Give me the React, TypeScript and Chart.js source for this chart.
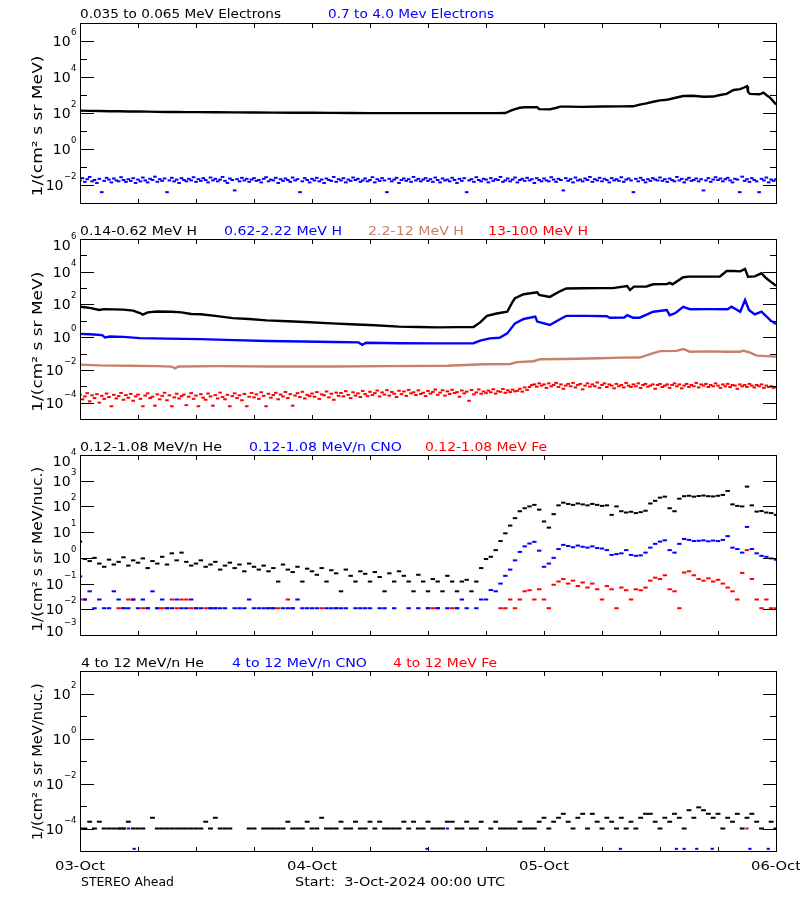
import React, { useEffect, useRef } from 'react';
import { Chart, registerables } from 'chart.js';

Chart.register(...registerables);

// ---------------- DATA ----------------
const CADENCE_30 = 0.5;  // hours between samples (30-min series)
const CADENCE_15 = 0.25; // hours between samples (15-min series)

const X_DAY_HOURS = [0, 24, 48, 72];
const X_DAY_LABELS = ['03-Oct', '04-Oct', '05-Oct', '06-Oct'];
const X_MINOR_HOURS = [6, 12, 18, 24, 30, 36, 42, 48, 54, 60, 66];
const FOOTER_LEFT = 'STEREO Ahead';
const FOOTER_RIGHT = 'Start:  3-Oct-2024 00:00 UTC';

// Panel 1: electrons
const P1_NAMES = ['0.035 to 0.065 MeV Electrons', '0.7 to 4.0 Mev Electrons'];
const P1_Y_TITLE = '1/(cm\u00B2 s sr MeV)';
const E_LOW: [number, number][] = [
  [0, 135], [1, 132], [2, 128], [3, 126], [4, 124], [5, 122], [6, 120], [7, 119], [8, 116], [9, 114],
  [10, 113], [11, 112], [12, 112], [14, 110], [16, 108], [18, 106], [20, 105], [22, 104], [24, 103],
  [26, 101], [28, 100], [30, 99], [32, 98], [34, 98], [36, 99], [38, 98], [40, 99], [42, 98], [43, 99],
  [44, 100], [44.5, 130], [45, 165], [45.5, 195], [46, 210], [47.3, 210], [47.5, 165], [48.6, 160],
  [49.2, 190], [49.7, 225], [50.3, 225], [52, 220], [54, 230], [56, 232], [57.2, 235], [57.9, 290],
  [58.6, 340], [59.3, 420], [60, 500], [60.7, 540], [61.5, 680], [62.4, 880], [63.4, 900], [64.5, 800],
  [65.5, 820], [66.2, 1000], [66.9, 1150], [67.6, 1900], [68.3, 2100], [68.7, 2600], [69, 3100],
  [69.1, 1500], [69.3, 1150], [70.3, 1100], [70.7, 1350], [71, 1000], [71.4, 700], [72, 300],
];
const E_HIGH: (number | null)[] = [
  .018, .024, .015, .021, .028, .016, .019, .013, .022, .004, .017, .025, .02, .014, .023, .018, .016, .027, .019, .015, .021, .017, .024, .013,
  .02, .016, .026, .018, .014, .022, .019, .029, .015, .021, .017, .023, .004, .018, .025, .016, .02, .013, .024, .019, .016, .022, .018, .027,
  .015, .021, .017, .024, .019, .014, .026, .018, .022, .016, .02, .028, .017, .013, .023, .019, .005, .021, .016, .025, .018, .022, .015, .02,
  .024, .017, .019, .014, .022, .027, .016, .02, .018, .025, .013, .021, .017, .023, .019, .015, .026, .018, .021, .004, .016, .024, .019, .014,
  .022, .018, .025, .016, .02, .013, .023, .019, .017, .028, .015, .021, .018, .024, .014, .02, .017, .026, .019, .022, .015, .018, .023, .016,
  .019, .027, .014, .021, .017, .024, .018, .004, .022, .016, .02, .025, .013, .019, .023, .017, .021, .015, .028, .018, .022, .016, .02, .024,
  .017, .021, .015, .026, .019, .014, .023, .018, .02, .016, .025, .019, .013, .022, .017, .024, .004, .018, .021, .015, .027, .019, .016, .022,
  .02, .014, .024, .017, .021, .019, .028, .015, .018, .023, .016, .02, .026, .014, .019, .022, .017, .025, .018, .021, .013, .024, .019, .016,
  .023, .018, .016, .027, .02, .015, .022, .019, .005, .024, .017, .021, .014, .026, .018, .02, .016, .023, .019, .028, .015, .021, .018, .025,
  .016, .022, .019, .014, .024, .018, .021, .017, .027, .015, .02, .023, .018, .004, .022, .016, .025, .019, .014, .021, .017, .024, .02, .018,
  .026, .017, .021, .015, .023, .019, .016, .028, .018, .022, .014, .02, .025, .017, .019, .023, .016, .021, .005, .018, .024, .015, .02, .027,
  .019, .023, .016, .021, .025, .018, .014, .022, .02, .004, .029, .017, .021, .015, .024, .019, .016, .004, .022, .018, .026, .014, .02, .017,
  .021,
];

// Panel 2: protons
const P2_NAMES = ['0.14-0.62 MeV H', '0.62-2.22 MeV H', '2.2-12 MeV H', '13-100 MeV H'];
const P2_Y_TITLE = '1/(cm\u00B2 s sr MeV)';
const H_1: [number, number][] = [
  [0, 72], [0.5, 68], [1, 62], [2, 46], [2.5, 52], [3.5, 50], [4.5, 48], [5.5, 42], [6.2, 30], [6.5, 24],
  [7, 33], [8, 37], [9.5, 36], [10.5, 33], [11.5, 26], [12.5, 25], [14, 20], [15.8, 14.5], [17.5, 13],
  [19.3, 10.7], [21.5, 9.5], [23.8, 8.1], [26, 7], [28, 6.2], [30.5, 5.4], [33, 4.4], [35, 4.2], [37, 4.0],
  [39, 4.1], [40.7, 4.2], [41.4, 8], [42.1, 20], [43.1, 28], [44.2, 36], [44.7, 130], [45, 240], [45.9, 420],
  [47.3, 550], [47.5, 380], [48.6, 290], [49.7, 660], [50.3, 950], [52, 980], [54, 990], [55.1, 1000],
  [56.6, 1350], [56.9, 760], [57.3, 1230], [58.6, 1250], [59.3, 1700], [60.7, 1750], [61, 2100], [61.3, 1700],
  [62.4, 4600], [63, 5000], [66.2, 5100], [66.9, 11000], [67.6, 11000], [68.3, 10500], [68.8, 14800],
  [69.1, 5000], [69.8, 5200], [70.5, 8000], [71, 4000], [71.6, 2100], [72, 1400],
];
const H_2: [number, number][] = [
  [0, 1.6], [1, 1.5], [2.3, 1.35], [2.6, 0.95], [3.1, 1.1], [4.5, 1.05], [6.2, 0.87], [9, 0.82], [12.4, 0.76],
  [16, 0.66], [19.3, 0.59], [23, 0.55], [26.2, 0.51], [28.8, 0.48], [29.2, 0.34], [29.6, 0.46], [33.1, 0.43],
  [37, 0.42], [40.7, 0.43], [41.4, 0.62], [42.4, 0.85], [43.4, 0.93], [44.2, 1.7], [45, 7], [45.9, 13],
  [47.1, 18], [47.3, 9], [48.6, 5.6], [49.7, 13], [50.3, 20], [52.5, 20], [54.5, 19], [54.8, 15.5],
  [56.3, 16], [56.6, 22], [57.2, 15.5], [57.9, 15.5], [59.3, 36], [60.7, 46], [61, 22], [61.6, 30],
  [62.4, 71], [63.1, 51], [65, 52], [67, 51], [67.4, 74], [68.3, 36], [68.8, 186], [69.2, 46], [69.8, 24.5],
  [70.5, 36], [71.4, 11], [72, 6.3],
];
const H_3: [number, number][] = [
  [0, 0.021], [2, 0.019], [5, 0.018], [8, 0.017], [9.5, 0.016], [9.8, 0.0125], [10.2, 0.016], [14, 0.017],
  [20, 0.016], [26, 0.016], [32, 0.017], [38, 0.018], [41.7, 0.022], [44.5, 0.023], [45.2, 0.03],
  [46.9, 0.034], [47.6, 0.045], [50, 0.046], [53.8, 0.052], [56, 0.056], [57.9, 0.057], [59.3, 0.105],
  [60, 0.14], [61.7, 0.145], [62.4, 0.19], [63.1, 0.13], [65, 0.135], [67, 0.128], [68.3, 0.13],
  [68.6, 0.15], [69.2, 0.12], [70, 0.074], [71, 0.07], [72, 0.065],
];
const H_4: (number | null)[] = [
  3e-4, 1.6e-4, 2.4e-4, 3.8e-4, 1.2e-4, 2.8e-4, 1.9e-4, 3.3e-4, 1e-4, 2.6e-4, 1.7e-4, 3.6e-4, 2.2e-4, 6e-5, 3e-4, 1.8e-4, 2.5e-4, 3.9e-4, 1.5e-4, 2.9e-4, 2e-4, 3.4e-4, 1.3e-4, 2.4e-4,
  3.1e-4, 1.7e-4, 6e-5, 2.7e-4, 3.7e-4, 1.9e-4, 2.3e-4, 6.5e-5, 3.2e-4, 1.6e-4, 2.6e-4, 4e-4, 1.4e-4, 2.8e-4, 6e-5, 2.1e-4, 3.5e-4, 1.8e-4, 2.5e-4, 3.1e-4, 7e-5, 2.3e-4, 3.8e-4, 1.7e-4,
  2.7e-4, 6e-5, 3.3e-4, 2e-4, 1.5e-4, 3.6e-4, 2.4e-4, 6.5e-5, 2.9e-4, 1.8e-4, 4.1e-4, 2.2e-4, 1.6e-4, 3e-4, 6e-5, 2.5e-4, 3.7e-4, 1.9e-4, 2.8e-4, 1.4e-4, 3.4e-4, 6e-5, 2.3e-4, 3.9e-4,
  2.1e-4, 3.2e-4, 1.7e-4, 4.3e-4, 2.6e-4, 6e-5, 3.5e-4, 2e-4, 2.9e-4, 4e-4, 1.6e-4, 3.1e-4, 2.4e-4, 4.5e-4, 1.9e-4, 3.3e-4, 6.5e-5, 2.7e-4, 3.8e-4, 2.2e-4, 4.6e-4, 1.8e-4, 3e-4, 2.5e-4,
  3.6e-4, 2.3e-4, 4.4e-4, 1.7e-4, 3.2e-4, 2.8e-4, 4.8e-4, 2.1e-4, 3.5e-4, 1.5e-4, 4.1e-4, 2.6e-4, 3.9e-4, 2.4e-4, 5e-4, 3e-4, 1.9e-4, 4.3e-4, 2.7e-4, 3.7e-4, 2.2e-4, 5.2e-4, 3.3e-4, 2.5e-4,
  4.6e-4, 2.9e-4, 3.8e-4, 5.5e-4, 2.4e-4, 4.2e-4, 3.1e-4, 5.8e-4, 2.7e-4, 4.5e-4, 3.5e-4, 2.2e-4, 5.3e-4, 3.3e-4, 4.8e-4, 2.6e-4, 6e-4, 3.7e-4, 4.3e-4, 2.9e-4, 5.6e-4, 3.4e-4, 4e-4, 2.5e-4,
  5.2e-4, 3.6e-4, 4.5e-4, 6.3e-4, 3e-4, 4.1e-4, 5.7e-4, 2.7e-4, 4.9e-4, 3.4e-4, 6.1e-4, 3.9e-4, 4.4e-4, 2.3e-4, 5.5e-4, 3.7e-4, 4.7e-4, 1.3e-4, 5.9e-4, 3.2e-4, 4.2e-4, 6.4e-4, 3.5e-4, 4.8e-4,
  3.8e-4, 5.4e-4, 4.3e-4, 6.6e-4, 3.6e-4, 5e-4, 4.6e-4, 6.8e-4, 4e-4, 5.7e-4, 4.4e-4, 6.2e-4, 4.9e-4, 5.3e-4, 7e-4, 4.7e-4, 8.5e-4, 6e-4, 9e-4, 1.2e-3, 1.3e-3, 9.5e-4, 1.5e-3, 1.1e-3,
  1.3e-3, 8e-4, 1.5e-3, 1e-3, 1.2e-3, 1.6e-3, 9e-4, 1.3e-3, 7e-4, 1.1e-3, 1.4e-3, 1e-3, 1.6e-3, 8.5e-4, 1.2e-3, 1.4e-3, 6.5e-4, 1.1e-3, 1.5e-3, 9.5e-4, 1.3e-3, 1e-3, 1.7e-3, 8e-4,
  1.2e-3, 1.5e-3, 9e-4, 1.3e-3, 1.1e-3, 7.5e-4, 1.4e-3, 1e-3, 1.2e-3, 8.5e-4, 1.6e-3, 1.1e-3, 9e-4, 1.3e-3, 1e-3, 1.5e-3, 8e-4, 1.2e-3, 1.4e-3, 9.5e-4, 1.1e-3, 1.3e-3, 7e-4, 1.2e-3,
  1.4e-3, 9e-4, 1.1e-3, 1.3e-3, 8e-4, 1.2e-3, 1.5e-3, 1e-3, 1.3e-3, 7.5e-4, 1.1e-3, 1.4e-3, 9e-4, 1.2e-3, 1e-3, 1.6e-3, 8.5e-4, 1.3e-3, 1.1e-3, 1.4e-3, 9e-4, 1.2e-3, 1e-3, 1.5e-3,
  1.1e-3, 8e-4, 1.3e-3, 1e-3, 1.4e-3, 9e-4, 1.2e-3, 1.1e-3, 7e-4, 1.3e-3, 1e-3, 1.2e-3, 9e-4, 1.4e-3, 1.1e-3, 8.5e-4, 1.2e-3, 1e-3, 1.3e-3, 8e-4, 1.1e-3, 9e-4, 1e-3, 8e-4,
  9e-4,
];

// Panel 3: low-energy heavy ions
const P3_NAMES = ['0.12-1.08 MeV/n He', '0.12-1.08 MeV/n CNO', '0.12-1.08 MeV Fe'];
const P3_Y_TITLE = '1/(cm\u00B2 s sr MeV/nuc.)';
const HE_LOW: (number | null)[] = [
  4.3, 0.9, 0.75, 1.0, 0.6, 0.45, 0.85, 0.55, 0.7, 1.05, 0.5, 0.8,
  0.65, 0.95, 0.4, 0.75, 0.6, 1.1, 0.55, 1.5, 0.8, 1.6, 0.7, 0.5,
  0.6, 0.8, 0.45, 0.55, 0.7, 0.35, 0.5, 0.65, 0.4, 0.55, 0.3, 0.6,
  0.45, 0.35, 0.5, 0.3, 0.4, 0.12, 0.55, 0.35, 0.28, 0.45, 0.12, 0.38,
  0.3, 0.22, 0.4, 0.12, 0.33, 0.25, 0.05, 0.35, 0.2, 0.12, 0.3, 0.24,
  0.12, 0.28, 0.18, 0.05, 0.25, 0.12, 0.3, 0.2, 0.12, 0.05, 0.22, 0.12,
  0.05, 0.15, 0.12, 0.05, 0.2, 0.12, 0.05, 0.12, 0.14, 0.05, 0.12, 0.4,
  0.9, 1.1, 2.0, 4.5, 9, 18, 35, 65, 85, 100, 115, 75,
  26, 15, 50, 110, 140, 125, 115, 130, 120, 110, 125, 115,
  105, 110, 47, 100, 65, 58, 62, 55, 60, 68, 130, 165,
  220, 240, 85, 65, 200, 250, 260, 240, 255, 265, 250, 245,
  260, 280, 400, 120, 105, 100, 590, 110, 63, 66, 58, 55,
  47,
];
const CNO_LOW: (number | null)[] = [
  0.19, 0.024, 0.05, 0.011, 0.024, 0.011, 0.011, 0.05, 0.024, 0.011, 0.011, 0.024,
  0.011, 0.024, 0.011, 0.05, 0.011, 0.024, 0.011, 0.011, 0.024, 0.011, 0.011, 0.024,
  0.011, 0.011, null, 0.011, 0.011, 0.011, 0.011, null, 0.011, 0.011, 0.011, 0.024,
  0.011, 0.011, 0.011, 0.011, 0.011, null, 0.011, 0.011, 0.011, 0.024, 0.011, 0.011,
  0.011, 0.011, null, 0.011, 0.011, 0.011, 0.011, 0.011, null, 0.011, 0.011, 0.011,
  0.011, null, 0.011, 0.011, null, 0.011, null, null, 0.011, null, 0.011, null,
  0.011, null, 0.011, null, 0.011, null, 0.011, 0.024, 0.011, null, 0.011, 0.024,
  0.024, 0.056, 0.05, 0.1, 0.2, 0.35, 0.8, 1.7, 2.8, 3.6, 4.2, 1.9,
  0.45, 0.6, 1.0, 2.2, 3.2, 2.9, 2.6, 3.0, 2.7, 2.5, 2.8, 2.4,
  2.3, 2.0, 1.3, 1.4, 1.5, 2.0, 1.3, 1.2, 1.25, 1.6, 2.5, 3.5,
  4.3, 4.8, 2.0, 1.6, 3.5, 5.4, 5.0, 4.5, 4.6, 4.8, 4.4, 4.7,
  4.5, 5.0, 7.0, 2.5, 2.2, 1.6, 16, 2.2, 1.5, 1.2, 1.1, 0.95,
  0.85,
];
const FE_LOW: (number | null)[] = [
  0.024, 0.024, null, null, null, null, null, null, 0.011, 0.011, 0.024, 0.024,
  null, 0.011, 0.011, null, 0.011, 0.011, 0.011, 0.024, 0.011, 0.024, 0.024, 0.011,
  0.011, null, 0.011, 0.011, 0.011, null, null, null, null, null, null, null,
  null, null, null, 0.011, 0.011, 0.011, null, 0.024, 0.011, null, null, null,
  null, null, 0.011, null, null, 0.011, null, null, null, null, null, null,
  null, null, null, null, null, null, null, null, null, null, null, null,
  0.011, 0.011, 0.011, null, null, 0.011, 0.011, null, null, null, null, null,
  null, null, null, 0.011, 0.011, 0.024, 0.011, 0.024, 0.05, 0.055, 0.024, 0.06,
  0.024, 0.011, 0.09, 0.12, 0.15, 0.1, 0.13, 0.08, 0.11, 0.07, 0.1, 0.06,
  0.024, 0.08, 0.06, 0.011, 0.07, 0.055, 0.024, 0.06, 0.055, 0.07, 0.13, 0.17,
  0.15, 0.21, 0.06, 0.05, 0.011, 0.27, 0.3, 0.21, 0.15, 0.13, 0.16, 0.12,
  0.14, 0.1, 0.07, 0.05, 0.024, 0.26, 2.0, 0.15, 0.024, 0.011, 0.024, 0.011,
  0.011,
];

// Panel 4: high-energy heavy ions
const P4_NAMES = ['4 to 12 MeV/n He', '4 to 12 MeV/n CNO', '4 to 12 MeV Fe'];
const P4_Y_TITLE = '1/(cm\u00B2 s sr MeV/nuc.)';
const HE_HIGH: (number | null)[] = [
  1e-4, 1e-4, 2e-4, 1e-4, 2e-4, 1e-4, 1e-4, 1e-4, 1e-4, 1e-4, 2e-4, 1e-4,
  1e-4, 1e-4, null, 3e-4, 1e-4, 1e-4, 1e-4, 1e-4, 1e-4, 1e-4, 1e-4, 1e-4,
  1e-4, 1e-4, 2e-4, 1e-4, 3e-4, 1e-4, 1e-4, 1e-4, null, null, null, 1e-4,
  1e-4, null, 1e-4, 1e-4, 1e-4, 1e-4, 1e-4, 2e-4, 1e-4, 1e-4, 1e-4, 2e-4,
  1e-4, 1e-4, 3e-4, 1e-4, 1e-4, 1e-4, 2e-4, 1e-4, 1e-4, 2e-4, 1e-4, 1e-4,
  2e-4, 1e-4, 2e-4, 1e-4, 1e-4, 1e-4, 1e-4, 2e-4, 1e-4, 2e-4, 1e-4, 1e-4,
  2e-4, 1e-4, 1e-4, 1e-4, 2e-4, 2e-4, 1e-4, 1e-4, 2e-4, 1e-4, 1e-4, 2e-4,
  null, 1e-4, 2e-4, 1e-4, 1e-4, 1e-4, 1e-4, 2e-4, 1e-4, 1e-4, 1e-4, 2e-4,
  3e-4, 1e-4, 2e-4, 3e-4, 4.5e-4, 2e-4, 1e-4, 3e-4, 4.5e-4, 1e-4, 4.5e-4, 2e-4,
  1e-4, 3e-4, 2e-4, 1e-4, 3e-4, 1e-4, 2e-4, 1e-4, 3e-4, 4.5e-4, 4.5e-4, 2e-4,
  1e-4, 3e-4, 2e-4, 4.5e-4, 3e-4, 1e-4, 6.5e-4, 3e-4, 8.7e-4, 6.5e-4, 4.5e-4, 3e-4,
  4.5e-4, 1e-4, 3e-4, 2e-4, 4.5e-4, 1e-4, 3e-4, 4.5e-4, 2e-4, 1e-4, null, 2e-4,
  1e-4,
];
const CNO_HIGH: [number, number][] = [
  [4.1, 1e-4], [4.5, 1e-4], [5.0, 1e-4], [5.6, 1.25e-5], [35.9, 1.25e-5], [38, 1e-4], [55.9, 1.25e-5],
  [61.7, 1.25e-5], [62.5, 1.25e-5], [63.8, 1.25e-5], [65.4, 1.25e-5], [69.3, 1.25e-5], [71.2, 1.25e-5],
];
const FE_HIGH: [number, number][] = [[69, 1e-4]];

// Axis decades: labelled (major) and unlabelled (minor) exponents per panel
const P1_Y = { min: -3, max: 7, major: [6, 4, 2, 0, -2], minor: [5, 3, 1, -1] };
const P2_Y = { min: -5, max: 6, major: [6, 4, 2, 0, -2, -4], minor: [5, 3, 1, -1, -3] };
const P3_Y = { min: -3, max: 4, major: [4, 3, 2, 1, 0, -1, -2, -3], minor: [] as number[] };
const P4_Y = { min: -5, max: 3, major: [2, 0, -2, -4], minor: [1, -1, -3] };

// ---------------- STYLE / LAYOUT ----------------
const BLACK = '#000000';
const BLUE = '#0000ff';
const BROWN = 'rgb(200,128,104)';
const RED = '#ff0000';
const FONT = '"DejaVu Sans", sans-serif';

type Pt = { x: number; y: number };
const fromPairs = (p: [number, number][]): Pt[] => p.map(([x, y]) => ({ x, y }));
const fromCadence = (v: (number | null)[], step: number): Pt[] =>
  v.map((y, i) => ({ x: i * step, y })).filter((p) => p.y !== null) as Pt[];

const lineDs = (data: Pt[], color: string) => ({
  data, showLine: true, borderColor: color, backgroundColor: color, borderWidth: 2.4,
  pointRadius: 0, pointHoverRadius: 0, fill: false, tension: 0,
});
const dotDs = (data: Pt[], color: string, r = 2.2) => ({
  data, showLine: false, pointStyle: 'line', pointRadius: r, pointHoverRadius: r,
  pointBorderWidth: 2, pointBorderColor: color, pointBackgroundColor: color,
  borderColor: color, backgroundColor: color,
});

type Panel = {
  top: number; height: number; padTop: number; padBottom: number;
  axis: { min: number; max: number; major: number[]; minor: number[] };
  names: string[]; colors: string[]; titleBase: number; titleBoxes: [number, number][];
  yTitle: string; yTitleMid: number; yTitleLen: number;
  datasets: any[]; xLabels: boolean;
};

const PANELS: Panel[] = [
  {
    top: 0, height: 215, padTop: 23, padBottom: 12, axis: P1_Y,
    names: P1_NAMES, colors: [BLACK, BLUE], titleBase: 18.3, titleBoxes: [[80, 201], [328, 166]],
    yTitle: P1_Y_TITLE, yTitleMid: 126, yTitleLen: 141,
    datasets: [lineDs(fromPairs(E_LOW), BLACK), dotDs(fromCadence(E_HIGH, CADENCE_15), BLUE, 1.8)], xLabels: false,
  },
  {
    top: 215, height: 220, padTop: 24, padBottom: 16, axis: P2_Y,
    names: P2_NAMES, colors: [BLACK, BLUE, BROWN, RED], titleBase: 20,
    titleBoxes: [[80, 117], [224, 118], [368, 96], [488, 100]],
    yTitle: P2_Y_TITLE, yTitleMid: 126.7, yTitleLen: 140,
    datasets: [
      lineDs(fromPairs(H_1), BLACK), lineDs(fromPairs(H_2), BLUE),
      lineDs(fromPairs(H_3), BROWN), dotDs(fromCadence(H_4, CADENCE_15), RED, 1.8),
    ],
    xLabels: false,
  },
  {
    top: 435, height: 215, padTop: 20, padBottom: 15, axis: P3_Y,
    names: P3_NAMES, colors: [BLACK, BLUE, RED], titleBase: 16,
    titleBoxes: [[80, 142], [249, 153], [425, 122]],
    yTitle: P3_Y_TITLE, yTitleMid: 114.2, yTitleLen: 165,
    datasets: [
      dotDs(fromCadence(HE_LOW, CADENCE_30), BLACK),
      dotDs(fromCadence(CNO_LOW, CADENCE_30), BLUE),
      dotDs(fromCadence(FE_LOW, CADENCE_30), RED),
    ],
    xLabels: false,
  },
  {
    top: 650, height: 250, padTop: 21, padBottom: 49, axis: P4_Y,
    names: P4_NAMES, colors: [BLACK, BLUE, RED], titleBase: 16.7,
    titleBoxes: [[81, 123], [232, 135], [393, 104]],
    yTitle: P4_Y_TITLE, yTitleMid: 111.7, yTitleLen: 157,
    datasets: [
      dotDs(fromCadence(HE_HIGH, CADENCE_30), BLACK, 2.45),
      dotDs(fromPairs(CNO_HIGH), BLUE, 1.6),
      dotDs(fromPairs(FE_HIGH), RED, 1.6),
    ],
    xLabels: true,
  },
];

function fitText(ctx: CanvasRenderingContext2D, text: string, x: number, base: number, w: number, font: string, color: string) {
  ctx.font = font;
  ctx.fillStyle = color;
  ctx.textAlign = 'left';
  ctx.textBaseline = 'alphabetic';
  const m = ctx.measureText(text).width || 1;
  ctx.save();
  ctx.translate(x, base);
  ctx.scale(w / m, 1);
  ctx.fillText(text, 0, 0);
  ctx.restore();
}

function makeDecor(p: Panel) {
  return {
    id: 'decor',
    afterDraw(chart: any) {
      const { ctx, chartArea: a, scales } = chart;
      const xs = scales.x, ys = scales.y;
      ctx.save();
      ctx.strokeStyle = BLACK;
      ctx.lineWidth = 1;
      ctx.strokeRect(a.left + 0.5, a.top + 0.5, a.right - a.left, a.bottom - a.top);

      // y ticks
      const drawY = (e: number, len: number) => {
        const py = Math.round(ys.getPixelForValue(Math.pow(10, e))) + 0.5;
        if (py <= a.top + 1 || py >= a.bottom) return;
        ctx.beginPath();
        ctx.moveTo(a.left, py); ctx.lineTo(a.left + len, py);
        ctx.moveTo(a.right + 1, py); ctx.lineTo(a.right + 1 - len, py);
        ctx.stroke();
      };
      p.axis.major.forEach((e) => drawY(e, 14));
      p.axis.minor.forEach((e) => drawY(e, 7));

      // x ticks
      X_MINOR_HOURS.forEach((h) => {
        const px = Math.round(xs.getPixelForValue(h)) + 0.5;
        ctx.beginPath();
        ctx.moveTo(px, a.bottom); ctx.lineTo(px, a.bottom - 4);
        ctx.moveTo(px, a.top + 1); ctx.lineTo(px, a.top + 5);
        ctx.stroke();
      });

      // y labels
      ctx.fillStyle = BLACK;
      ctx.textBaseline = 'alphabetic';
      p.axis.major.forEach((e) => {
        const py = ys.getPixelForValue(Math.pow(10, e));
        const cy = Math.min(Math.max(py, a.top + 5.5), a.bottom - 4);
        const sup = e < 0 ? '\u2212' + String(-e) : String(e);
        ctx.font = '8.5px ' + FONT;
        const sw = ctx.measureText(sup).width;
        ctx.textAlign = 'left';
        ctx.fillText(sup, 76.5 - sw, cy - 6);
        ctx.font = '14px ' + FONT;
        ctx.textAlign = 'right';
        ctx.fillText('10', 76 - sw, cy + 5);
      });

      // titles
      p.names.forEach((t, i) => {
        const [x, w] = p.titleBoxes[i];
        fitText(ctx, t, x, p.titleBase, w, '13px ' + FONT, p.colors[i]);
      });

      // y title
      ctx.save();
      ctx.translate(41.5, p.yTitleMid);
      ctx.rotate(-Math.PI / 2);
      fitText(ctx, p.yTitle, -p.yTitleLen / 2, 0, p.yTitleLen, '13.5px ' + FONT, BLACK);
      ctx.restore();

      if (p.xLabels) {
        X_DAY_HOURS.forEach((h, i) => {
          const px = xs.getPixelForValue(h);
          fitText(ctx, X_DAY_LABELS[i], px - 25, 220, 50, '13px ' + FONT, BLACK);
        });
        fitText(ctx, FOOTER_LEFT, 81, 235.7, 93, '13px ' + FONT, BLACK);
        fitText(ctx, FOOTER_RIGHT, 295, 235.7, 210, '13px ' + FONT, BLACK);
      }
      ctx.restore();
    },
  };
}

function PanelChart({ p }: { p: Panel }) {
  const ref = useRef<HTMLCanvasElement | null>(null);
  useEffect(() => {
    if (!ref.current) return;
    const chart = new Chart(ref.current, {
      type: 'scatter',
      data: { datasets: p.datasets.map((d) => ({ ...d })) },
      options: {
        animation: false,
        responsive: false,
        devicePixelRatio: 1,
        events: [],
        layout: { padding: { left: 80, right: 24, top: p.padTop, bottom: p.padBottom } },
        plugins: { legend: { display: false }, tooltip: { enabled: false }, title: { display: false } },
        scales: {
          x: { type: 'linear', min: 0, max: 72, display: false },
          y: { type: 'logarithmic', min: Math.pow(10, p.axis.min), max: Math.pow(10, p.axis.max), display: false },
        },
      } as any,
      plugins: [makeDecor(p)],
    });
    return () => chart.destroy();
  }, [p]);
  return (
    <canvas
      ref={ref}
      width={800}
      height={p.height}
      style={{ position: 'absolute', left: 0, top: p.top, width: 800, height: p.height }}
    />
  );
}

export default function App() {
  return (
    <div style={{ position: 'absolute', left: 0, top: 0, width: 800, height: 900, background: '#ffffff' }}>
      {PANELS.map((p, i) => (
        <PanelChart key={i} p={p} />
      ))}
    </div>
  );
}
